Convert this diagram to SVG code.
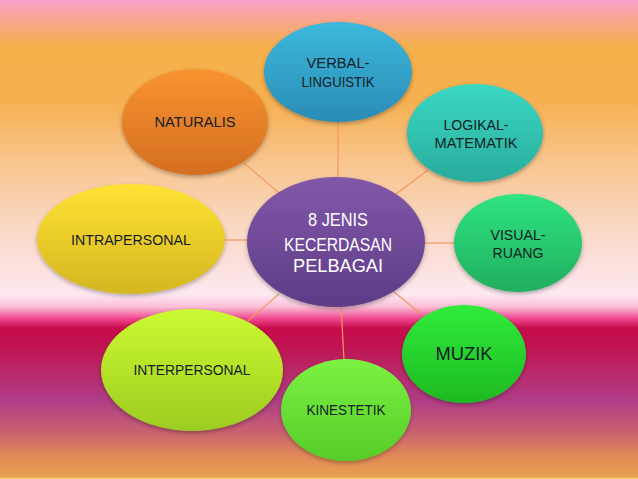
<svg xmlns="http://www.w3.org/2000/svg" width="638" height="479" viewBox="0 0 638 479">
<defs>
<linearGradient id="bg" x1="0" y1="0" x2="0" y2="479" gradientUnits="userSpaceOnUse">
<stop offset="0" stop-color="#f9a0cc"/>
<stop offset="0.04" stop-color="#f8a690"/>
<stop offset="0.1" stop-color="#f6b04a"/>
<stop offset="0.21" stop-color="#f6b050"/>
<stop offset="0.33" stop-color="#f8c48a"/>
<stop offset="0.44" stop-color="#fad4b8"/>
<stop offset="0.55" stop-color="#fce0dc"/>
<stop offset="0.615" stop-color="#fde8f2"/>
<stop offset="0.64" stop-color="#fbc0d8"/>
<stop offset="0.665" stop-color="#f04890"/>
<stop offset="0.685" stop-color="#c80c4c"/>
<stop offset="0.72" stop-color="#c01252"/>
<stop offset="0.78" stop-color="#b82a6a"/>
<stop offset="0.835" stop-color="#b03c88"/>
<stop offset="0.9" stop-color="#c86070"/>
<stop offset="0.95" stop-color="#e08858"/>
<stop offset="0.995" stop-color="#e8a050"/>
<stop offset="1" stop-color="#f8d870"/>
</linearGradient>
<linearGradient id="gVer" x1="0" y1="0" x2="0" y2="1"><stop offset="0" stop-color="#3cb8dc"/><stop offset="1" stop-color="#2a8cb6"/></linearGradient>
<linearGradient id="gNat" x1="0" y1="0" x2="0" y2="1"><stop offset="0" stop-color="#f89430"/><stop offset="1" stop-color="#d46e22"/></linearGradient>
<linearGradient id="gLog" x1="0" y1="0" x2="0" y2="1"><stop offset="0" stop-color="#3ad8c2"/><stop offset="1" stop-color="#28ac9e"/></linearGradient>
<linearGradient id="gIntra" x1="0" y1="0" x2="0" y2="1"><stop offset="0" stop-color="#ffe232"/><stop offset="1" stop-color="#d4b622"/></linearGradient>
<linearGradient id="gCen" x1="0" y1="0" x2="0" y2="1"><stop offset="0" stop-color="#8258aa"/><stop offset="1" stop-color="#5e3c86"/></linearGradient>
<linearGradient id="gVis" x1="0" y1="0" x2="0" y2="1"><stop offset="0" stop-color="#30e482"/><stop offset="1" stop-color="#20ae5e"/></linearGradient>
<linearGradient id="gMuz" x1="0" y1="0" x2="0" y2="1"><stop offset="0" stop-color="#30ec3a"/><stop offset="1" stop-color="#1eba22"/></linearGradient>
<linearGradient id="gInter" x1="0" y1="0" x2="0" y2="1"><stop offset="0" stop-color="#ccfa32"/><stop offset="1" stop-color="#9ccc20"/></linearGradient>
<linearGradient id="gKin" x1="0" y1="0" x2="0" y2="1"><stop offset="0" stop-color="#7cf244"/><stop offset="1" stop-color="#56cc28"/></linearGradient>
<filter id="sh" x="-20%" y="-20%" width="140%" height="150%">
<feDropShadow dx="0" dy="2" stdDeviation="2" flood-color="#000" flood-opacity="0.3"/>
</filter>
</defs>
<style>
.lbl{font-family:"Liberation Sans",Arial,sans-serif;font-size:15px;fill:#141c24;text-anchor:middle}
.cen{font-family:"Liberation Sans",Arial,sans-serif;font-size:19px;fill:#ffffff;text-anchor:middle}
.big{font-size:18px}
.con{stroke:#f4985a;stroke-width:1.2;fill:none}
ellipse{filter:url(#sh)}
</style>
<rect x="0" y="0" width="638" height="479" fill="url(#bg)"/>
<g id="connectors">
<line class="con" x1="338" y1="122" x2="338" y2="178"/>
<line class="con" x1="244" y1="163" x2="279" y2="193"/>
<line class="con" x1="428" y1="170" x2="396" y2="194"/>
<line class="con" x1="225" y1="240" x2="248" y2="240"/>
<line class="con" x1="425" y1="243" x2="455" y2="243"/>
<line class="con" x1="394" y1="292" x2="420" y2="313"/>
<line class="con" x1="341" y1="306" x2="344" y2="360"/>
<line class="con" x1="279" y1="294" x2="248" y2="321"/>
</g>
<g id="verbal">
<ellipse cx="338" cy="72" rx="74" ry="50" fill="url(#gVer)"/>
<text class="lbl" x="338" y="68" textLength="63" lengthAdjust="spacingAndGlyphs">VERBAL-</text>
<text class="lbl" x="338" y="87" textLength="73" lengthAdjust="spacingAndGlyphs">LINGUISTIK</text>
</g>
<g id="naturalis">
<ellipse cx="195" cy="122" rx="73" ry="53" fill="url(#gNat)"/>
<text class="lbl" x="195" y="127" textLength="81" lengthAdjust="spacingAndGlyphs">NATURALIS</text>
</g>
<g id="logikal">
<ellipse cx="475" cy="133" rx="68" ry="49" fill="url(#gLog)"/>
<text class="lbl" x="476" y="130" textLength="65" lengthAdjust="spacingAndGlyphs">LOGIKAL-</text>
<text class="lbl" x="476" y="148" textLength="83" lengthAdjust="spacingAndGlyphs">MATEMATIK</text>
</g>
<g id="intrapersonal">
<ellipse cx="131" cy="239" rx="94" ry="55" fill="url(#gIntra)"/>
<text class="lbl" x="131" y="245" textLength="120" lengthAdjust="spacingAndGlyphs">INTRAPERSONAL</text>
</g>
<g id="visual">
<ellipse cx="518" cy="243" rx="64" ry="49" fill="url(#gVis)"/>
<text class="lbl" x="518" y="240" textLength="55" lengthAdjust="spacingAndGlyphs">VISUAL-</text>
<text class="lbl" x="518" y="258" textLength="51" lengthAdjust="spacingAndGlyphs">RUANG</text>
</g>
<g id="muzik">
<ellipse cx="464" cy="354" rx="62" ry="49" fill="url(#gMuz)"/>
<text class="lbl big" x="464" y="360" textLength="57" lengthAdjust="spacingAndGlyphs">MUZIK</text>
</g>
<g id="interpersonal">
<ellipse cx="192" cy="370" rx="91" ry="61" fill="url(#gInter)"/>
<text class="lbl" x="192" y="375" textLength="117" lengthAdjust="spacingAndGlyphs">INTERPERSONAL</text>
</g>
<g id="kinestetik">
<ellipse cx="346" cy="410" rx="65" ry="51" fill="url(#gKin)"/>
<text class="lbl" x="346" y="415" textLength="79" lengthAdjust="spacingAndGlyphs">KINESTETIK</text>
</g>
<g id="center">
<ellipse cx="336" cy="242" rx="89" ry="65" fill="url(#gCen)"/>
<text class="cen" x="338" y="226" textLength="60" lengthAdjust="spacingAndGlyphs">8 JENIS</text>
<text class="cen" x="338" y="251" textLength="108" lengthAdjust="spacingAndGlyphs">KECERDASAN</text>
<text class="cen" x="338" y="272" textLength="90" lengthAdjust="spacingAndGlyphs">PELBAGAI</text>
</g>
</svg>
